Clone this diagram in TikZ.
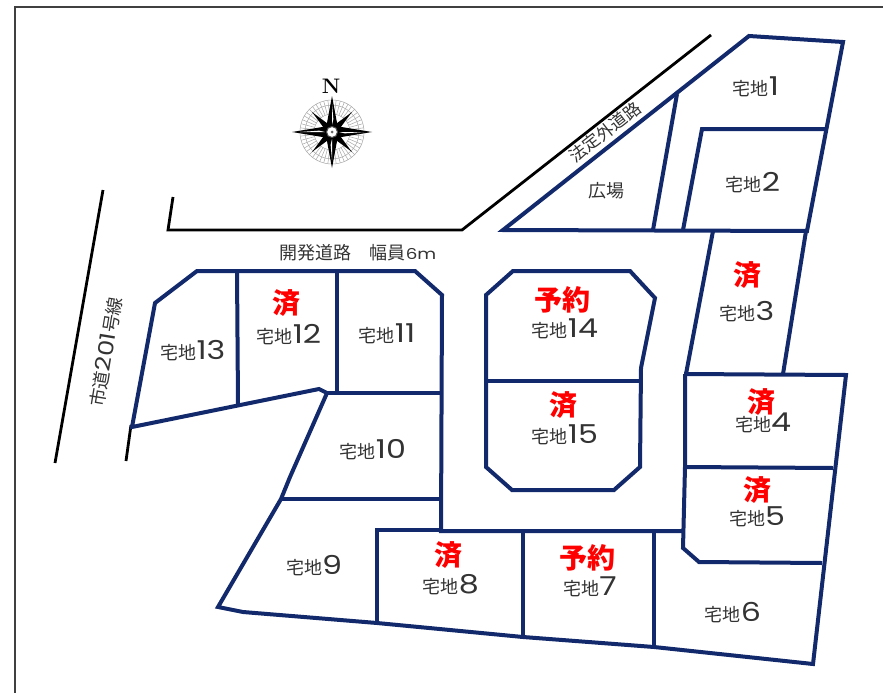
\documentclass[tikz,border=0pt]{standalone}
\usepackage{fontspec}
\newfontfamily\cjk{Noto Sans CJK JP}
\newfontfamily\dgt[FakeStretch=1.22]{Poppins}
\definecolor{lotblue}{HTML}{12296B}
\definecolor{lbl}{HTML}{333333}
\newcommand{\lotlabel}[1]{{\cjk\fontsize{18}{18}\selectfont 宅地}{\dgt\fontsize{26}{26}\selectfont #1}}
\newcommand{\roadtxt}[1]{{\cjk\fontsize{18}{18}\selectfont #1}}
\tikzset{
  lotline/.style={draw=lotblue,line width=4pt,line join=miter,line cap=butt},
  roadline/.style={draw=black,line width=2.8pt,line join=miter},
  frameline/.style={draw=black!75,line width=1.6pt},
  lotname/.style={text=lbl,inner sep=0pt,anchor=center},
  roadname/.style={text=lbl,inner sep=0pt,anchor=center},
  sold/.style={text=red,inner sep=0pt,anchor=center,font=\cjk\bfseries\fontsize{28}{28}\selectfont},
  rosefine/.style={draw=black!35,line width=.5pt},
}
\begin{document}
\begin{tikzpicture}[x=1pt,y=-1pt]
\useasboundingbox (0,0) rectangle (883,693);
% frame
\draw[frameline] (15,693) -- (15,7) -- (883,7);
% roads
\draw[roadline] (173,197) -- (168,230) -- (462,230) -- (711,35);
\draw[roadline] (103,190) -- (55,463);
\draw[roadline] (131,425) -- (126,461);
% lots
\draw[lotline] (503,230) -- (749,36) -- (843,42) -- (807,231) -- cycle;
\draw[lotline] (677,94) -- (653,230);
\draw[lotline] (683,230) -- (702,129) -- (826,129);
\draw[lotline] (713,231) -- (686,374);
\draw[lotline] (806,231) -- (783,374);
\draw[lotline] (684,374) -- (846,375) -- (813,664) -- (654,647) -- (523,637) -- (377,623) -- (243,612) -- (218,607) -- (281,499) -- (290,477) -- (327,393) -- (319,389) -- (132,427) -- (155,303) -- (197,271) -- (415,271) -- (442,295) -- (441,531) -- (683,531);
\draw[lotline] (685,374) -- (685,467) -- (683,548) -- (699,562) -- (822,563);
\draw[lotline] (685,467) -- (833,468);
\draw[lotline] (237,271) -- (238,404);
\draw[lotline] (337,271) -- (337,393);
\draw[lotline] (327,393) -- (441,393);
\draw[lotline] (281,499) -- (441,499);
\draw[lotline] (377,623) -- (377,530) -- (442,530);
\draw[lotline] (523,531) -- (523,637);
\draw[lotline] (654,531) -- (654,647);
\draw[lotline] (513,271) -- (630,271) -- (655,298) -- (641,368) -- (640,467) -- (614,490) -- (512,490) -- (486,467) -- (486,295) -- cycle;
\draw[lotline] (486,381) -- (641,381);
% lot names
\node[lotname] (l1) at (756,87) {\lotlabel{1}};
\node[lotname] (l2) at (753,183) {\lotlabel{2}};
\node[lotname] (l3) at (747,312) {\lotlabel{3}};
\node[lotname] (l4) at (763,423) {\lotlabel{4}};
\node[lotname] (l5) at (757,517) {\lotlabel{5}};
\node[lotname] (l6) at (733,613) {\lotlabel{6}};
\node[lotname] (l7) at (590,587) {\lotlabel{7}};
\node[lotname] (l8) at (451,585) {\lotlabel{8}};
\node[lotname] (l9) at (314,566) {\lotlabel{9}};
\node[lotname] (l10) at (373,450) {\lotlabel{10}};
\node[lotname] (l11) at (387,334) {\lotlabel{11}};
\node[lotname] (l12) at (289,335) {\lotlabel{12}};
\node[lotname] (l13) at (193,351) {\lotlabel{13}};
\node[lotname] (l14) at (565,329) {\lotlabel{14}};
\node[lotname] (l15) at (565,435) {\lotlabel{15}};
\node[roadname] (plaza) at (606,191) {\roadtxt{広場}};
\node[roadname] (devroad) at (358,253) {\roadtxt{開発道路　幅員}{\dgt\fontsize{15}{15}\selectfont 6m}};
\node[roadname,rotate=38] (outroad) at (605,132) {{\cjk\fontsize{17}{17}\selectfont 法定外道路}};
\node[roadname,rotate=80.5] (cityroad) at (106,352) {\roadtxt{市道}{\dgt\fontsize{21}{21}\selectfont 201}\roadtxt{号線}};
% status
\node[sold] (s12) at (286,303) {済};
\node[sold] (s14) at (562,300) {予約};
\node[sold] (s3) at (747,275) {済};
\node[sold] (s4) at (761,402) {済};
\node[sold] (s5) at (757,490) {済};
\node[sold] (s15) at (563,405) {済};
\node[sold] (s8) at (448,555) {済};
\node[sold] (s7) at (587,558) {予約};
% compass
\node[inner sep=0pt,text=black,font=\bfseries\fontsize{21}{21}\selectfont] (north) at (331,86) {N};
\begin{scope}[shift={(332,132)}]
  \draw[rosefine] (0,0) circle[radius=32];
  \draw[rosefine] (0,0) circle[radius=27];
  \draw[rosefine] (0,0) circle[radius=18];
  \foreach \a in {0,7.5,...,352.5} \draw[rosefine] (\a:18) -- (\a:32);
  \foreach \a in {45,135,225,315}{
    \fill[black] (0,0) -- (\a+16:10) -- (\a:28) -- (\a-16:10) -- cycle;
  }
  \foreach \a/\L in {0/40,90/36,180/40,270/36}{
    \fill[black] (0,0) -- (\a+45:8) -- (\a:\L) -- (\a-45:8) -- cycle;
  }
  \foreach \a/\L in {0/32,90/28,180/32,270/28}{
    \fill[white] (\a:7) -- (\a+6:13) -- (\a:\L) -- cycle;
  }
  \fill[white] (0,0) circle[radius=5.5];
  \draw[black!70,line width=1pt] (0,0) circle[radius=5.5];
  \fill[black!60] (0,0) circle[radius=1.5];
\end{scope}
\end{tikzpicture}
\end{document}
